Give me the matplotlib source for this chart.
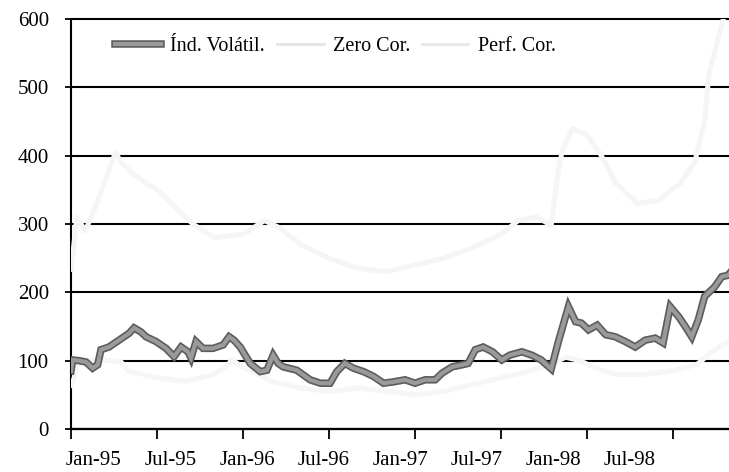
import matplotlib
matplotlib.use("Agg")
import matplotlib.pyplot as plt
import matplotlib.patheffects as pe
from matplotlib.lines import Line2D

# ---------------- data (months since Jan-95) ----------------
vol_months = [0.0, 0.12, 0.56, 1.05, 1.51, 1.86, 2.09, 2.65, 3.35, 4.05, 4.40, 4.88,
              5.23, 5.93, 6.63, 7.19, 7.68, 8.16, 8.37, 8.72, 9.21, 9.91, 10.61, 11.03,
              11.37, 11.8, 12.5, 13.2, 13.66, 14.1, 14.45, 14.8, 15.75, 16.68, 17.4,
              18.07, 18.54, 19.1, 19.7, 20.4, 21.1, 21.8, 22.5, 23.3, 24.0, 24.7, 25.4,
              25.9, 26.6, 27.3, 27.7, 28.2, 28.75, 29.4, 30.05, 30.6, 31.45, 32.15,
              32.8, 33.5, 34.0, 34.7, 35.2, 35.6, 36.1, 36.7, 37.3, 37.96, 38.66,
              39.36, 40.06, 40.75, 41.3, 41.8, 42.4, 42.85, 43.3, 43.76, 44.2, 44.9,
              45.4, 45.85, 46.1]
vol_index = [85, 101, 100, 98, 89, 94, 116, 120, 130, 140, 148, 142,
             135, 128, 118, 106, 120, 113, 104, 128, 118, 118, 123, 135,
             130, 120, 96, 84, 86, 108, 96, 91, 86, 72, 67,
             67, 84, 96, 89, 84, 77, 67, 69, 72, 67, 72, 72,
             82, 91, 94, 96, 116, 120, 113, 101, 108, 113, 108,
             101, 88, 128, 179, 157, 155, 145, 152, 138, 135, 128,
             120, 130, 133, 126, 179, 164, 150, 135, 160, 194, 208,
             223, 225, 232]

zero_months = [0, 0.5, 1, 2, 3.5, 4, 6, 8, 10, 11, 11.2, 12, 14, 16, 18, 20, 22, 24,
               26, 28, 30, 32, 33.5, 34.5, 35.5, 36.5, 38, 40, 42, 43.7, 44.1, 44.5, 46]
zero_cor = [60, 95, 100, 102, 98, 85, 75, 70, 80, 95, 102, 90, 70, 60, 55, 60, 55, 50,
            55, 65, 75, 85, 95, 105, 100, 90, 80, 80, 85, 95, 102, 110, 130]

perf_months = [0, 0.4, 1.0, 1.6, 2.5, 3.1, 3.5, 4.5, 6, 8.5, 10, 12, 13.5, 14.5, 16,
               18, 20, 22, 24, 26, 28, 30, 31.2, 32.5, 33.5, 34, 34.3, 35, 36, 37, 38,
               39.5, 41, 42.5, 43.5, 44.2, 44.5, 45, 45.5, 46]
perf_cor = [230, 310, 290, 320, 370, 405, 390, 370, 350, 300, 280, 285, 305, 295, 270,
            250, 235, 230, 240, 250, 265, 285, 305, 310, 298, 380, 410, 440, 430, 400, 360,
            330, 335, 360, 390, 450, 520, 560, 600, 620]

tick_months = [0, 6, 12, 18, 24, 30, 36, 42]
date_labels = ["Jan-95", "Jul-95", "Jan-96", "Jul-96", "Jan-97", "Jul-97", "Jan-98", "Jul-98"]
y_ticks = [0, 100, 200, 300, 400, 500, 600]
series_names = ["Índ. Volátil.", "Zero Cor.", "Perf. Cor."]

# ---------------- style ----------------
plt.rcParams["font.family"] = ["Liberation Serif", "DejaVu Serif"]
FS = 15

fig = plt.figure(figsize=(7.29, 4.72), dpi=100)
ax = fig.add_axes([71 / 729, 43 / 472, 658 / 729, 410 / 472])

dark_fx = [pe.Stroke(linewidth=5.4, foreground="#5c5c5c"),
           pe.Normal()]

ax.plot(perf_months, perf_cor, color="#f5f5f5", lw=3.6, zorder=3, solid_capstyle="butt")
ax.plot(zero_months, zero_cor, color="#f6f6f6", lw=3.6, zorder=3, solid_capstyle="butt")
ax.plot(vol_months, vol_index, color="#9a9a9a", lw=3.0, zorder=4,
        path_effects=dark_fx, solid_joinstyle="miter")

ax.set_xlim(0, 45.9)
ax.set_ylim(0, 600)

ax.set_yticks(y_ticks)
ax.set_yticklabels([str(v) for v in y_ticks], fontsize=FS)
ax.grid(axis="y", color="black", lw=1.5, zorder=2)
ax.set_axisbelow(True)
for gl in ax.get_ygridlines():
    gl.set_clip_on(False)
    gl.set_zorder(2)

ax.set_xticks(tick_months)
ax.set_xticklabels([""] * len(tick_months))
label_pos = [1.6 + i * 5.34 for i in range(len(date_labels))]
ax.set_xticks(label_pos, minor=True)
ax.set_xticklabels(date_labels, minor=True, fontsize=FS)
ax.tick_params(axis="x", which="major", length=7, width=1.3, direction="out", color="black")
ax.tick_params(axis="x", which="minor", length=0, pad=16)
ax.tick_params(axis="y", which="major", length=4, width=1.3, pad=12)

for s in ["top", "right"]:
    ax.spines[s].set_visible(False)
ax.spines["left"].set_linewidth(1.5)
ax.spines["bottom"].set_linewidth(1.6)
ax.spines["left"].set_zorder(1)

handles = [
    Line2D([], [], color="#9a9a9a", lw=3.0, path_effects=dark_fx),
    Line2D([], [], color="#e4e4e4", lw=2.0),
    Line2D([], [], color="#e8e8e8", lw=2.0),
]
leg = ax.legend(handles, series_names, loc="center left", bbox_to_anchor=(0.067, 0.932),
                ncol=3, frameon=False, fontsize=14.5, handlelength=2.3, handletextpad=0.45,
                columnspacing=0.6, borderpad=0, borderaxespad=0)

fig.savefig("out.png", dpi=100)
